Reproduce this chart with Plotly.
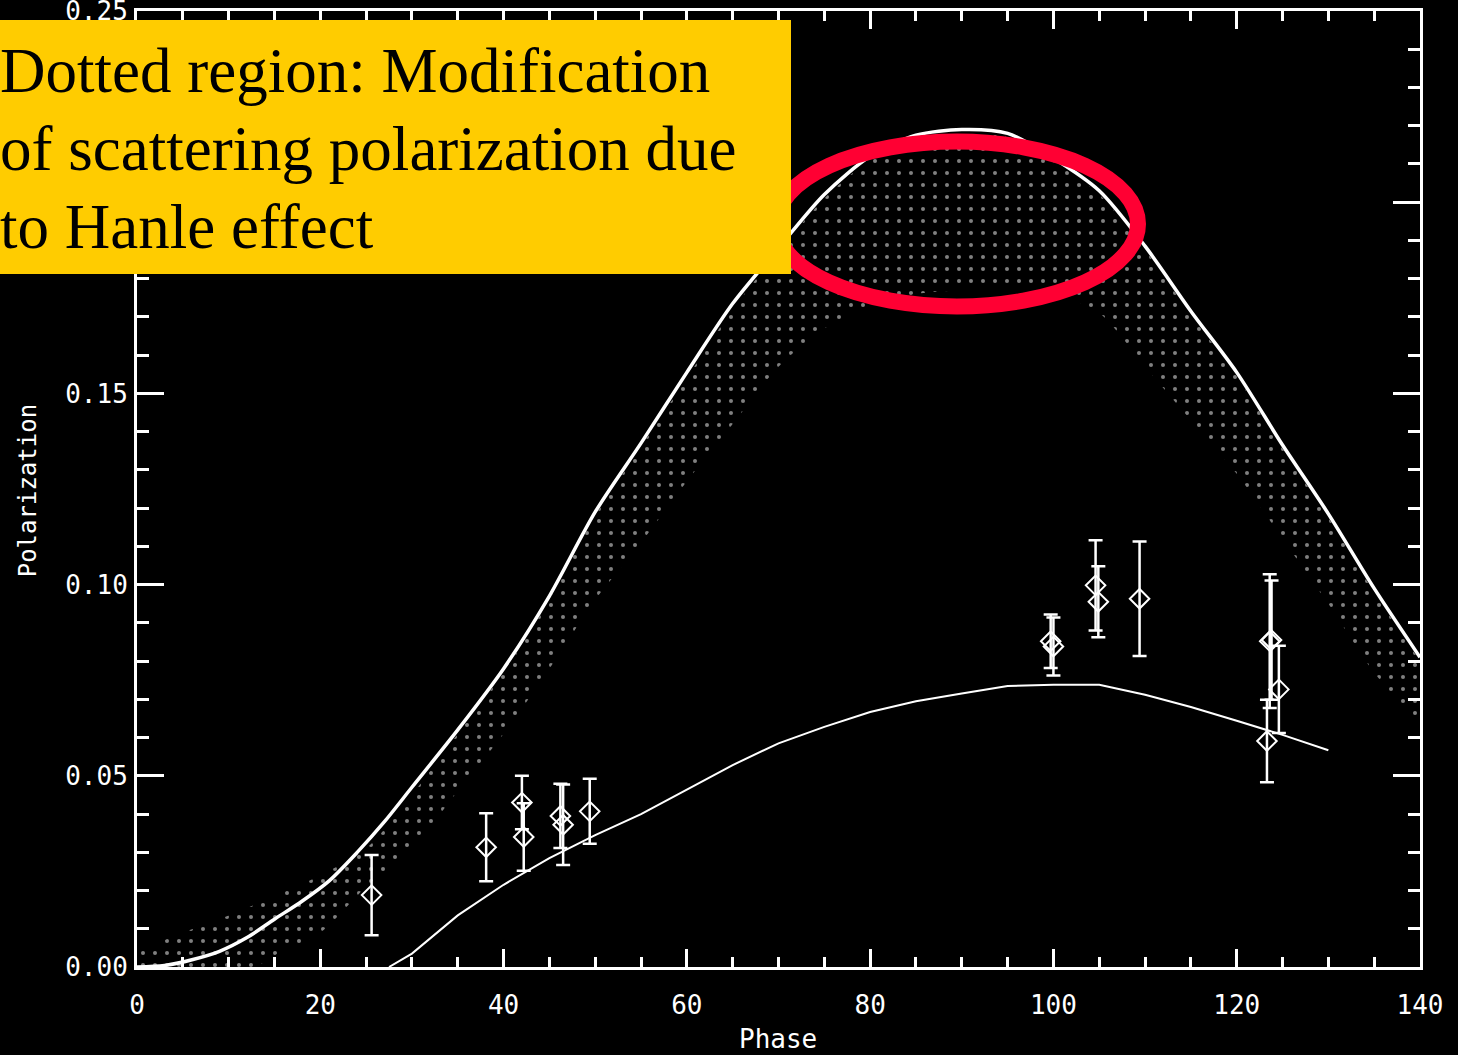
import plotly.graph_objects as go

# ---------------- data ----------------
# upper (no-Hanle) scattering polarization curve
curve_phase = [0, 3, 6, 9, 12, 15, 18, 21, 24, 27, 30, 35, 40, 45, 50, 55, 60, 65,
               70, 75, 80, 85, 90, 95, 100, 105, 110, 115, 120, 125, 130, 135, 140]
curve_pol = [0.0, 0.0004, 0.0019, 0.0041, 0.0077, 0.0125, 0.0172, 0.0226, 0.0299, 0.038,
             0.047, 0.062, 0.078, 0.097, 0.119, 0.137, 0.1555, 0.1735, 0.188, 0.202,
             0.212, 0.2175, 0.219, 0.218, 0.2115, 0.203, 0.1885, 0.1715, 0.1555, 0.1365,
             0.1185, 0.099, 0.081]

# dotted region (Hanle modification) upper / lower envelopes
band_phase = [0, 5, 10, 15, 20, 25, 30, 35, 40, 45, 50, 55, 60, 65, 70, 75, 80, 85,
              90, 95, 100, 105, 110, 115, 120, 125, 130, 135, 140]
band_hi = [0.004, 0.009, 0.0135, 0.0185, 0.024, 0.031, 0.045, 0.061, 0.077, 0.096,
           0.118, 0.136, 0.154, 0.172, 0.187, 0.201, 0.211, 0.2165, 0.218, 0.217,
           0.2105, 0.202, 0.1875, 0.1705, 0.1545, 0.1355, 0.1175, 0.098, 0.080]
band_lo = [-0.004, -0.008, -0.0045, 0.003, 0.009, 0.021, 0.031, 0.046, 0.061, 0.078,
           0.096, 0.111, 0.127, 0.142, 0.157, 0.167, 0.173, 0.176, 0.177, 0.177,
           0.176, 0.171, 0.157, 0.143, 0.129, 0.112, 0.095, 0.077, 0.063]

# lower model curve
model_phase = [27.5, 30, 35, 40, 45, 50, 55, 60, 65, 70, 75, 80, 85, 90, 95, 100,
               105, 110, 115, 120, 125, 130]
model_pol = [0.0, 0.0035, 0.0135, 0.0215, 0.0285, 0.0345, 0.040, 0.0465, 0.0528,
             0.0585, 0.0628, 0.0667, 0.0695, 0.0715, 0.0735, 0.0738, 0.0738, 0.0712,
             0.068, 0.0644, 0.0607, 0.0567]

# observations with error bars
obs_phase = [25.6, 38.1, 42.0, 42.2, 46.2, 46.5, 49.4, 99.7, 100.0, 104.6, 104.9,
             109.4, 123.6, 123.8, 124.6, 123.3]
obs_pol = [0.0188, 0.0313, 0.043, 0.034, 0.0395, 0.0372, 0.0407, 0.0852, 0.0838,
           0.0998, 0.0955, 0.0963, 0.0852, 0.0855, 0.0726, 0.0591]
obs_err = [0.0105, 0.0089, 0.007, 0.0088, 0.0084, 0.0105, 0.0085, 0.0070, 0.0076,
           0.0118, 0.0093, 0.0150, 0.0175, 0.0156, 0.0114, 0.0108]

x_ticks = [0, 20, 40, 60, 80, 100, 120, 140]
x_labels = ["0", "20", "40", "60", "80", "100", "120", "140"]
y_ticks = [0.0, 0.05, 0.10, 0.15, 0.20, 0.25]
y_labels = ["0.00", "0.05", "0.10", "0.15", "", "0.25"]   # 0.20 is hidden by the note box

note_lines = ["Dotted region: Modification",
              "of scattering polarization due",
              "to Hanle effect"]

# ---------------- layout geometry (pixels) ----------------
W, H = 1458, 1055
L, R, T, B = 137, 38, 11, 88
PW, PH = W - L - R, H - T - B
XR = (0, 140)
YR = (0, 0.25)


def px2paper_x(p):
    return (p - L) / PW


def px2paper_y(p):
    return (H - B - p) / PH


def px2data_x(p):
    return XR[0] + (p - L) / PW * (XR[1] - XR[0])


def px2data_y(p):
    return YR[0] + (H - B - p) / PH * (YR[1] - YR[0])


fig = go.Figure()

# dotted band
fig.add_trace(go.Scatter(x=band_phase, y=band_lo, mode="lines",
                         line=dict(width=0, color="rgba(0,0,0,0)", shape="spline",
                                   smoothing=0.8),
                         hoverinfo="skip", showlegend=False))
fig.add_trace(go.Scatter(x=band_phase, y=band_hi, mode="lines",
                         line=dict(width=0, color="rgba(0,0,0,0)", shape="spline",
                                   smoothing=0.8),
                         fill="tonexty", fillcolor="rgba(0,0,0,0)",
                         fillpattern=dict(shape=".", fgcolor="white",
                                          bgcolor="rgba(0,0,0,0)",
                                          size=12, solidity=0.09),
                         hoverinfo="skip", showlegend=False))

# curves
fig.add_trace(go.Scatter(x=curve_phase, y=curve_pol, mode="lines",
                         line=dict(color="white", width=3.5, shape="spline",
                                   smoothing=0.8),
                         showlegend=False))
fig.add_trace(go.Scatter(x=model_phase, y=model_pol, mode="lines",
                         line=dict(color="white", width=2), showlegend=False))

# observations
fig.add_trace(go.Scatter(x=obs_phase, y=obs_pol, mode="markers",
                         marker=dict(symbol="diamond-open", size=15, color="white",
                                     line=dict(color="white", width=2)),
                         error_y=dict(type="data", array=obs_err, visible=True,
                                      color="white", thickness=2.5, width=7),
                         showlegend=False))

tickfont = dict(family="DejaVu Sans Mono", size=26, color="white")
fig.update_xaxes(range=list(XR), tickmode="array", tickvals=x_ticks, ticktext=x_labels,
                 showline=True, linecolor="white", linewidth=3, mirror="ticks",
                 ticks="inside", ticklen=18, tickwidth=2.5, tickcolor="white",
                 minor=dict(ticks="inside", dtick=5, tick0=0, ticklen=10,
                            tickwidth=2.5, tickcolor="white"),
                 showgrid=False, zeroline=False, tickfont=tickfont,
                 ticklabelstandoff=13, ticklabeloverflow="allow", automargin=False)
fig.update_yaxes(range=list(YR), tickmode="array", tickvals=y_ticks, ticktext=y_labels,
                 showline=True, linecolor="white", linewidth=3, mirror="ticks",
                 ticks="inside", ticklen=27, tickwidth=2.5, tickcolor="white",
                 minor=dict(ticks="inside", dtick=0.01, tick0=0, ticklen=12,
                            tickwidth=2.5, tickcolor="white"),
                 showgrid=False, zeroline=False, tickfont=tickfont,
                 ticklabelstandoff=1, ticklabeloverflow="allow", automargin=False)

# red ellipse around the peak
cx, cy, rx, ry = 957, 224, 181, 82.5
fig.add_shape(type="circle", xref="x", yref="y",
              x0=px2data_x(cx - rx), x1=px2data_x(cx + rx),
              y0=px2data_y(cy + ry), y1=px2data_y(cy - ry),
              line=dict(color="#FF0033", width=16), layer="above")

# yellow note box
fig.add_shape(type="rect", xref="paper", yref="paper",
              x0=px2paper_x(0), x1=px2paper_x(791),
              y0=px2paper_y(274), y1=px2paper_y(20),
              fillcolor="#FFCC00", line=dict(width=0), layer="above")

annotations = []
note_size = 63
baselines = [92.7, 170.4, 248.0]
for line, base in zip(note_lines, baselines):
    annotations.append(dict(text=line, xref="paper", yref="paper",
                            x=px2paper_x(-2), y=px2paper_y(base - 0.3375 * note_size),
                            xanchor="left", yanchor="middle", showarrow=False,
                            font=dict(family="Liberation Serif", size=note_size,
                                      color="black")))

# axis titles
annotations.append(dict(text="Phase", xref="paper", yref="paper",
                        x=px2paper_x(778), y=px2paper_y(1039),
                        xanchor="center", yanchor="middle", showarrow=False,
                        font=dict(family="DejaVu Sans Mono", size=26, color="white")))
annotations.append(dict(text="Polarization", xref="paper", yref="paper",
                        x=px2paper_x(27.5), y=px2paper_y(490.8), textangle=-90,
                        xanchor="center", yanchor="middle", showarrow=False,
                        font=dict(family="DejaVu Sans Mono", size=24, color="white")))

fig.update_layout(width=W, height=H, autosize=False,
                  margin=dict(l=L, r=R, t=T, b=B, pad=0, autoexpand=False),
                  paper_bgcolor="black", plot_bgcolor="black",
                  showlegend=False, annotations=annotations)

fig.write_html("out.html", config={"displayModeBar": False},
               post_script="document.body.style.margin='0';document.body.style.overflow='hidden';")
